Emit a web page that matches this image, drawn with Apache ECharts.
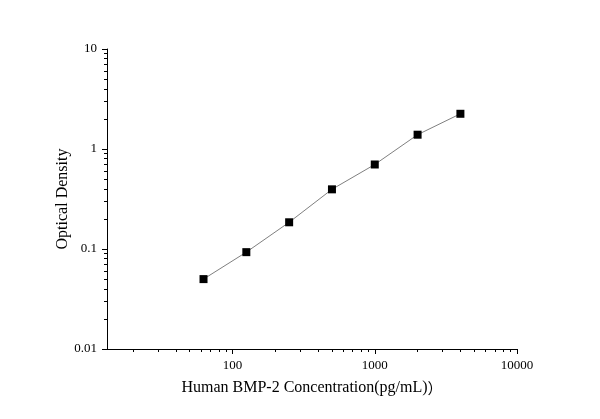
<!DOCTYPE html>
<html>
<head>
<meta charset="utf-8">
<script src="https://cdn.jsdelivr.net/npm/echarts@6/dist/echarts.min.js"></script>
<style>
  html, body { margin: 0; padding: 0; background: #fff; }
  #chart { width: 600px; height: 419px; }
</style>
</head>
<body>
<div id="chart"></div>
<script>
// standard curve points
var concentrations = [62.5, 125, 250, 500, 1000, 2000, 4000];
var densities = [0.050, 0.093, 0.185, 0.395, 0.70, 1.39, 2.25];

// axis ticks
var xMajorTicks = [100, 1000, 10000];
var xMinorTicks = [20, 30, 40, 50, 60, 70, 80, 90,
    200, 300, 400, 500, 600, 700, 800, 900,
    2000, 3000, 4000, 5000, 6000, 7000, 8000, 9000];
var yMajorTicks = [0.01, 0.1, 1, 10];
var yMinorTicks = [0.02, 0.03, 0.04, 0.05, 0.06, 0.07, 0.08, 0.09,
    0.2, 0.3, 0.4, 0.5, 0.6, 0.7, 0.8, 0.9,
    2, 3, 4, 5, 6, 7, 8, 9];

var xMin = 13.1, xMax = 10000;
var yMin = 0.01, yMax = 10;

var font = '"Liberation Serif", "Times New Roman", serif';

var points = concentrations.map(function(c, i) {
    return [c, densities[i]];
});

function plain(v) {
    return String(+v.toPrecision(6));
}

function baseAxis(min, max) {
    return {
        type: 'log',
        logBase: 10,
        min: min,
        max: max,
        splitLine: { show: false },
        axisLine: { show: true, lineStyle: { color: '#000', width: 1 } }
    };
}

var xMain = baseAxis(xMin, xMax);
xMain.position = 'bottom';
// last bracket is a full-width one in the original
xMain.name = 'Human BMP-2 Concentration(pg/mL){cjk|）}';
xMain.nameLocation = 'middle';
xMain.nameGap = 31;
xMain.nameMoveOverlap = false;
xMain.nameTextStyle = {
    fontFamily: font, fontSize: 16, color: '#000',
    rich: { cjk: { fontFamily: '"Noto Sans CJK SC"', fontSize: 15, color: '#000' } }
};
xMain.axisTick = { show: true, inside: false, length: 5, customValues: xMajorTicks, lineStyle: { color: '#000' } };
xMain.axisLabel = { show: true, customValues: xMajorTicks, formatter: plain, fontFamily: font, fontSize: 13, color: '#000', margin: 10 };

var xMinor = baseAxis(xMin, xMax);
xMinor.position = 'bottom';
xMinor.axisLine = { show: false };
xMinor.axisLabel = { show: false };
xMinor.axisTick = { show: true, inside: false, length: 3, customValues: xMinorTicks, lineStyle: { color: '#000' } };

var yMain = baseAxis(yMin, yMax);
yMain.position = 'left';
yMain.name = 'Optical Density';
yMain.nameLocation = 'middle';
yMain.nameGap = 36;
yMain.nameMoveOverlap = false;
yMain.nameTextStyle = { fontFamily: font, fontSize: 16, color: '#000' };
yMain.axisTick = { show: true, inside: false, length: 5, customValues: yMajorTicks, lineStyle: { color: '#000' } };
yMain.axisLabel = { show: true, customValues: yMajorTicks, formatter: plain, fontFamily: font, fontSize: 13, color: '#000', margin: 10 };

var yMinor = baseAxis(yMin, yMax);
yMinor.position = 'left';
yMinor.axisLine = { show: false };
yMinor.axisLabel = { show: false };
yMinor.axisTick = { show: true, inside: false, length: 3, customValues: yMinorTicks, lineStyle: { color: '#000' } };

var chart = echarts.init(document.getElementById('chart'));
chart.setOption({
    backgroundColor: '#fff',
    animation: false,
    grid: { left: 107, right: 83, top: 49, bottom: 70, containLabel: false },
    xAxis: [xMain, xMinor],
    yAxis: [yMain, yMinor],
    series: [{
        type: 'line',
        xAxisIndex: 0,
        yAxisIndex: 0,
        data: points,
        symbol: 'rect',
        symbolSize: 8,
        itemStyle: { color: '#000' },
        lineStyle: { color: '#808080', width: 1 },
        z: 3
    }]
});
</script>
</body>
</html>
